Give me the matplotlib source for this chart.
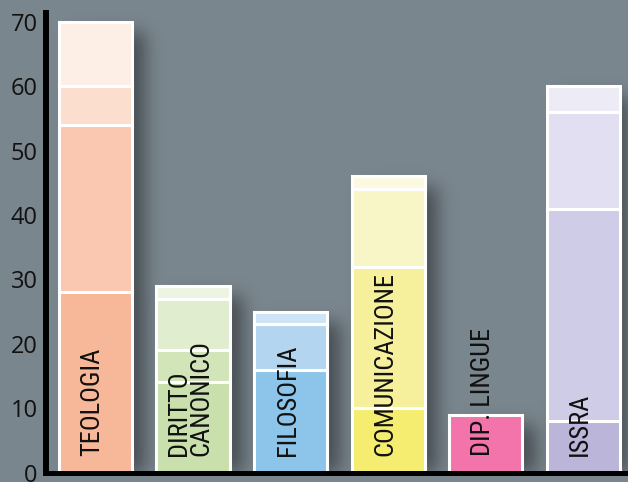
import numpy as np
import matplotlib
matplotlib.use('Agg')
import matplotlib.pyplot as plt
from matplotlib import font_manager

# stacked segments per faculty, bottom to top
faculties = ['TEOLOGIA', 'DIRITTO\nCANONICO', 'FILOSOFIA', 'COMUNICAZIONE', 'DIP. LINGUE', 'ISSRA']
segments = [
    [28, 26, 6, 10],
    [14, 5, 8, 2],
    [16, 7, 2],
    [10, 22, 12, 2],
    [9],
    [8, 33, 15, 4],
]
palettes = [
    ['#f7b799', '#fac8b1', '#fbdecd', '#fdefe6'],
    ['#c9e0ad', '#d1e5b9', '#e1edcf', '#edf4e3'],
    ['#8dc4e9', '#b3d5f0', '#cde3f6'],
    ['#f4ed70', '#f6f09d', '#f8f5c6', '#fbf9e0'],
    ['#f373ab'],
    ['#bab5d9', '#cfcce7', '#e1dff1', '#edecf6'],
]
yticks = [0, 10, 20, 30, 40, 50, 60, 70]


# narrowest sans available for the labels
def pick_font():
    names = {f.name for f in font_manager.fontManager.ttflist}
    for cand in ['Roboto Condensed', 'Liberation Sans Narrow', 'Arial Narrow',
                 'Open Sans Condensed', 'Noto Sans Display']:
        if cand in names:
            return cand, 'normal'
    for f in font_manager.fontManager.ttflist:
        if 'Condensed' in f.fname or 'Narrow' in f.fname:
            return f.name, f.stretch
    return 'Roboto', 'normal'


label_font, label_stretch = pick_font()

bg = '#7a868e'
bar_w = 0.75
x = np.arange(len(faculties))
totals = [sum(s) for s in segments]

fig = plt.figure(figsize=(6.28, 4.82), dpi=100)
fig.patch.set_facecolor(bg)
ax = fig.add_axes([0.0732, 0.0197, 1 - 0.0732, 0.9533])
ax.set_facecolor(bg)
xlim = (-0.508, 5.46)
ylim = (0, 71.4)
ax.set_xlim(*xlim)
ax.set_ylim(*ylim)

# soft drop shadow behind the bars
nx, ny = 582, 460
gx = np.linspace(xlim[0], xlim[1], nx)
gy = np.linspace(ylim[0], ylim[1], ny)
GX, GY = np.meshgrid(gx, gy)
px_x = (xlim[1] - xlim[0]) / nx
px_y = (ylim[1] - ylim[0]) / ny
mask = np.zeros((ny, nx))
for xi, t in zip(x, totals):
    cx = xi + 13 * px_x
    inside = (np.abs(GX - cx) < bar_w / 2) & (GY < t - 10 * px_y)
    mask[inside] = 1.0


def blur(a, sigma):
    r = int(3 * sigma)
    k = np.exp(-0.5 * (np.arange(-r, r + 1) / sigma) ** 2)
    k /= k.sum()
    a = np.apply_along_axis(lambda m: np.convolve(m, k, mode='same'), 1, a)
    a = np.apply_along_axis(lambda m: np.convolve(m, k, mode='same'), 0, a)
    return a


shadow = blur(mask, 9)
rgba = np.zeros((ny, nx, 4))
rgba[..., 3] = shadow * 0.42
ax.imshow(rgba, extent=(xlim[0], xlim[1], ylim[0], ylim[1]), origin='lower',
          aspect='auto', zorder=1, interpolation='bilinear')

for xi, segs, cols in zip(x, segments, palettes):
    bottom = 0
    for v, c in zip(segs, cols):
        ax.bar(xi, v, bar_w, bottom=bottom, color=c, edgecolor='white',
               linewidth=2.2, zorder=2)
        bottom += v

for xi, name in zip(x, faculties):
    ax.text(xi - 0.03, 2.5, name, rotation=90, ha='center', va='bottom',
            multialignment='left', linespacing=0.9, fontsize=19,
            fontstretch=label_stretch, color='#111111', zorder=3,
            family=[label_font, 'DejaVu Sans'])

for side in ['top', 'right']:
    ax.spines[side].set_visible(False)
ax.spines['left'].set_linewidth(4.3)
ax.spines['bottom'].set_linewidth(3.6)
ax.spines['left'].set_color('black')
ax.spines['bottom'].set_color('black')
ax.spines['left'].set_zorder(4)
ax.spines['bottom'].set_zorder(4)

ax.set_xticks([])
ax.set_yticks(yticks)
ax.set_yticklabels([str(v) for v in yticks], fontsize=17,
                   family=['Open Sans', 'DejaVu Sans'], color='#111111')
ax.tick_params(axis='y', length=0, pad=6)

fig.savefig('out.png', dpi=100, facecolor=bg)
